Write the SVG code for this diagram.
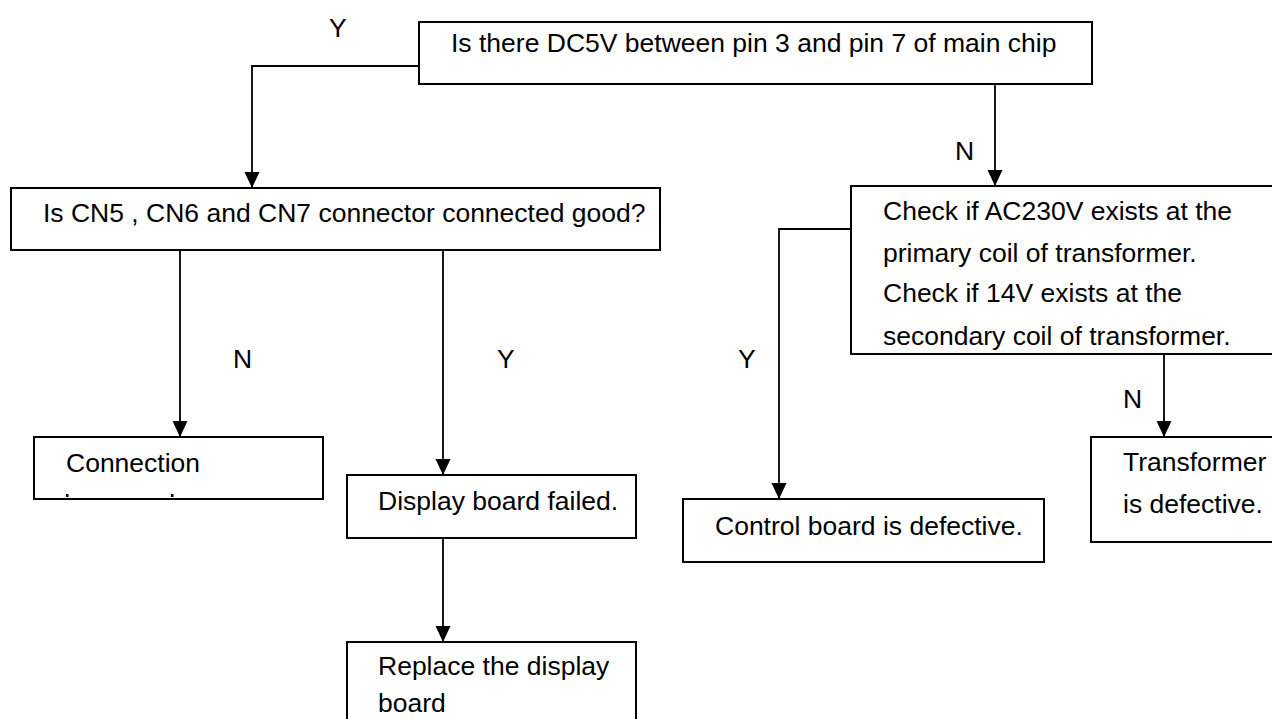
<svg xmlns="http://www.w3.org/2000/svg" width="1272" height="719" viewBox="0 0 1272 719">
<style>
.box{fill:#fff;stroke:#000;stroke-width:2}
.t{font-family:"Liberation Sans",Arial,sans-serif;font-size:26.5px;fill:#000}
.c{fill:none;stroke:#000;stroke-width:1.8}
</style>
<defs>
<marker id="ah" viewBox="0 0 16 16" refX="16" refY="8" markerWidth="16" markerHeight="16" markerUnits="userSpaceOnUse" orient="auto">
<path d="M0,0.5 L16,8 L0,15.5 z" fill="#000"/>
</marker>
</defs>
<rect width="1272" height="719" fill="#fff"/>
<g id="connectors">
<path class="c" d="M419,66 H252 V188" marker-end="url(#ah)"/>
<path class="c" d="M995,84 V186" marker-end="url(#ah)"/>
<path class="c" d="M180,250 V437" marker-end="url(#ah)"/>
<path class="c" d="M443,250 V475" marker-end="url(#ah)"/>
<path class="c" d="M443,538 V642" marker-end="url(#ah)"/>
<path class="c" d="M851,229 H779 V499" marker-end="url(#ah)"/>
<path class="c" d="M1164,354 V437" marker-end="url(#ah)"/>
<text class="t" x="329" y="37">Y</text>
<text class="t" x="955" y="160">N</text>
<text class="t" x="233" y="368">N</text>
<text class="t" x="497" y="368">Y</text>
<text class="t" x="738" y="368">Y</text>
<text class="t" x="1123" y="408">N</text>
</g>
<g id="n-dc5v">
<rect class="box" x="419" y="22" width="673" height="62"/>
<text class="t" x="451" y="52">Is there DC5V between pin 3 and pin 7 of main chip</text>
</g>
<g id="n-cn">
<rect class="box" x="11" y="188" width="649" height="62"/>
<text class="t" x="43" y="222">Is CN5 , CN6 and CN7 connector connected good?</text>
</g>
<g id="n-check">
<rect class="box" x="851" y="186" width="440" height="168"/>
<text class="t" x="883" y="220">Check if AC230V exists at the</text>
<text class="t" x="883" y="262">primary coil of transformer.</text>
<text class="t" x="883" y="302">Check if 14V exists at the</text>
<text class="t" x="883" y="345">secondary coil of transformer.</text>
</g>
<g id="n-connection">
<rect class="box" x="34" y="437" width="289" height="62"/>
<text class="t" x="66" y="472">Connection</text>
<rect x="66" y="494" width="2.5" height="3" fill="#000"/>
<rect x="171" y="494" width="2.5" height="3" fill="#000"/>
</g>
<g id="n-display">
<rect class="box" x="347" y="475" width="289" height="63"/>
<text class="t" x="378" y="510">Display board failed.</text>
</g>
<g id="n-replace">
<rect class="box" x="347" y="642" width="289" height="110"/>
<text class="t" x="378" y="675">Replace the display</text>
<text class="t" x="378" y="712">board</text>
</g>
<g id="n-control">
<rect class="box" x="683" y="499" width="361" height="63"/>
<text class="t" x="715" y="535">Control board is defective.</text>
</g>
<g id="n-transformer">
<rect class="box" x="1091" y="437" width="200" height="105"/>
<text class="t" x="1123" y="471">Transformer</text>
<text class="t" x="1123" y="513">is defective.</text>
</g>
</svg>
